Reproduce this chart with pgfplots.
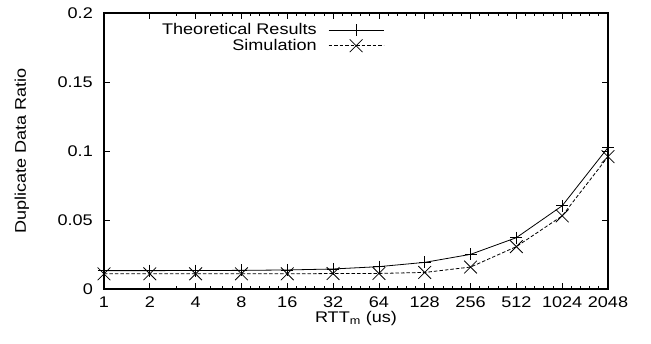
\documentclass[border=0pt]{standalone}
\usepackage{fontspec}
\setmainfont{Liberation Sans}[FakeStretch=1.17]
\usepackage{pgfplots}
\pgfplotsset{compat=1.18}
\begin{document}
\fontsize{15.5}{18}\selectfont
\begin{tikzpicture}
\path[use as bounding box] (-104bp,-55bp) rectangle (547bp,289bp);
\begin{axis}[
  at={(0,0)}, anchor=south west,
  scale only axis, width=504bp, height=276bp,
  xmin=0, xmax=11, ymin=0, ymax=0.2,
  xtick={0,1,2,3,4,5,6,7,8,9,10,11},
  xticklabels={1,2,4,8,16,32,64,128,256,512,1024,2048},
  minor xtick={1.585,2.322,2.585,2.807,
    3.2,3.4,3.6,3.8,4.2,4.4,4.6,4.8,5.2,5.4,5.6,5.8,6.2,6.4,6.6,6.8,
    7.2,7.4,7.6,7.8,8.2,8.4,8.6,8.8,9.2,9.4,9.6,9.8,10.2,10.4,10.6,10.8},
  ytick={0,0.05,0.1,0.15,0.2},
  yticklabels={0,0.05,0.1,0.15,0.2},
  tick align=inside,
  major tick length=6bp, minor tick length=3bp,
  tick style={black, line width=0.8bp},
  axis line style={line width=1.2bp},
  /pgf/number format/assume math mode=true,
  yticklabel style={inner sep=0pt, anchor=east, xshift=-11bp},
  xticklabel style={inner sep=0pt, anchor=north, yshift=-7.5bp},
  every axis y label/.style={at={(axis description cs:-0.163,0.5)}, rotate=90, anchor=center},
  every axis x label/.style={at={(axis description cs:0.5,-0.108)}, anchor=center},
  xlabel={RTT\textsubscript{m} (us)},
  ylabel={Duplicate Data Ratio},
  legend plot pos=right,
  legend cell align=right,
  legend style={at={(axis description cs:0.556,0.968)}, anchor=north east, draw=none, fill=none,
    inner sep=0pt, row sep=-1bp, nodes={inner sep=1.5bp}},
  legend image code/.code={\path (0bp,0bp); \draw[mark repeat=2, mark phase=2, #1] plot coordinates {(10bp,0bp) (37.5bp,0bp) (65bp,0bp)};},
]
% x = log2(RTT_m): 0 -> 1 us, 11 -> 2048 us
\addplot[black, line width=0.8bp, mark=+, mark size=6bp, mark options={solid, line width=0.8bp}]
  coordinates {(0,0.0133) (1,0.0133) (2,0.0134) (3,0.0135) (4,0.0138) (5,0.0145) (6,0.0162) (7,0.0193) (8,0.0251) (9,0.0372) (10,0.0603) (11,0.1025)};
\addlegendentry{Theoretical Results}
\addplot[black, line width=0.8bp, dash pattern=on 3.5bp off 2bp, mark=x, mark size=9bp, mark options={solid, line width=0.8bp}]
  coordinates {(0,0.0110) (1,0.0110) (2,0.0110) (3,0.0110) (4,0.0110) (5,0.0112) (6,0.0113) (7,0.0120) (8,0.0159) (9,0.0307) (10,0.0530) (11,0.0959)};
\addlegendentry{Simulation}
\end{axis}
\end{tikzpicture}
\end{document}
